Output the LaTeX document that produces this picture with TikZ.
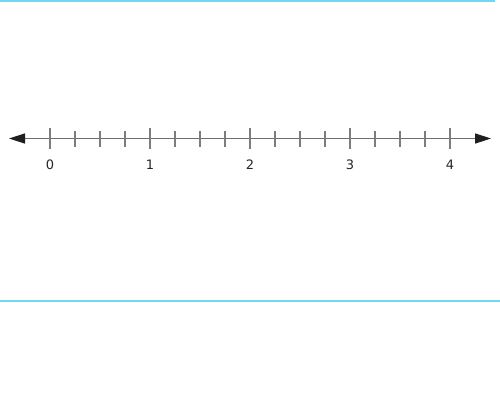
\documentclass[tikz,border=0pt]{standalone}
\usepackage{fontspec}
\setsansfont{DejaVu Sans}
\usetikzlibrary{arrows.meta,positioning}
\definecolor{rulecyan}{RGB}{116,214,240}
\definecolor{axisgray}{RGB}{110,110,110}
\definecolor{tickgray}{RGB}{125,125,125}
\tikzset{
  nlaxis/.style ={line width=1.5pt, axisgray,
                  {Triangle[length=16pt,width=10pt,color=black!88]}-{Triangle[length=16pt,width=10pt,color=black!88]}},
  nlmajor/.style={line width=1.3pt, tickgray},
  nlminor/.style={line width=1.2pt, tickgray},
  nllabel/.style={font=\sffamily\fontsize{13}{15}\selectfont, text=black!85, inner sep=0pt},
  nlrule/.style ={line width=2pt, rulecyan},
}
\begin{document}
\begin{tikzpicture}[x=1pt,y=-1pt]
\useasboundingbox (0,0) rectangle (500,410);
\coordinate (topL) at (0,0.5);
\coordinate (topR) at (495,0.5);
\coordinate (botL) at (0,301);
\coordinate (botR) at (500,301);
\draw[nlrule] (topL) -- (topR);
\draw[nlrule] (botL) -- (botR);
\coordinate (axL) at (9,138.5);
\coordinate (axR) at (491,138.5);
\draw[nlaxis] (axL) -- (axR);
\foreach \x in {75,100,125,175,200,225,275,300,325,375,400,425} {
  \coordinate (mt\x) at (\x,138.5);
  \draw[nlminor] (mt\x) ++(0,-7.5) -- ++(0,16);
}
\foreach \x/\lbl in {50/0,150/1,250/2,350/3,450/4} {
  \coordinate (Mt\lbl) at (\x,138.5);
  \draw[nlmajor] (Mt\lbl) ++(0,-10.8) -- ++(0,21.6);
  \node[nllabel] (lbl\lbl) at (\x,164.5) {\lbl};
}
\end{tikzpicture}
\end{document}
